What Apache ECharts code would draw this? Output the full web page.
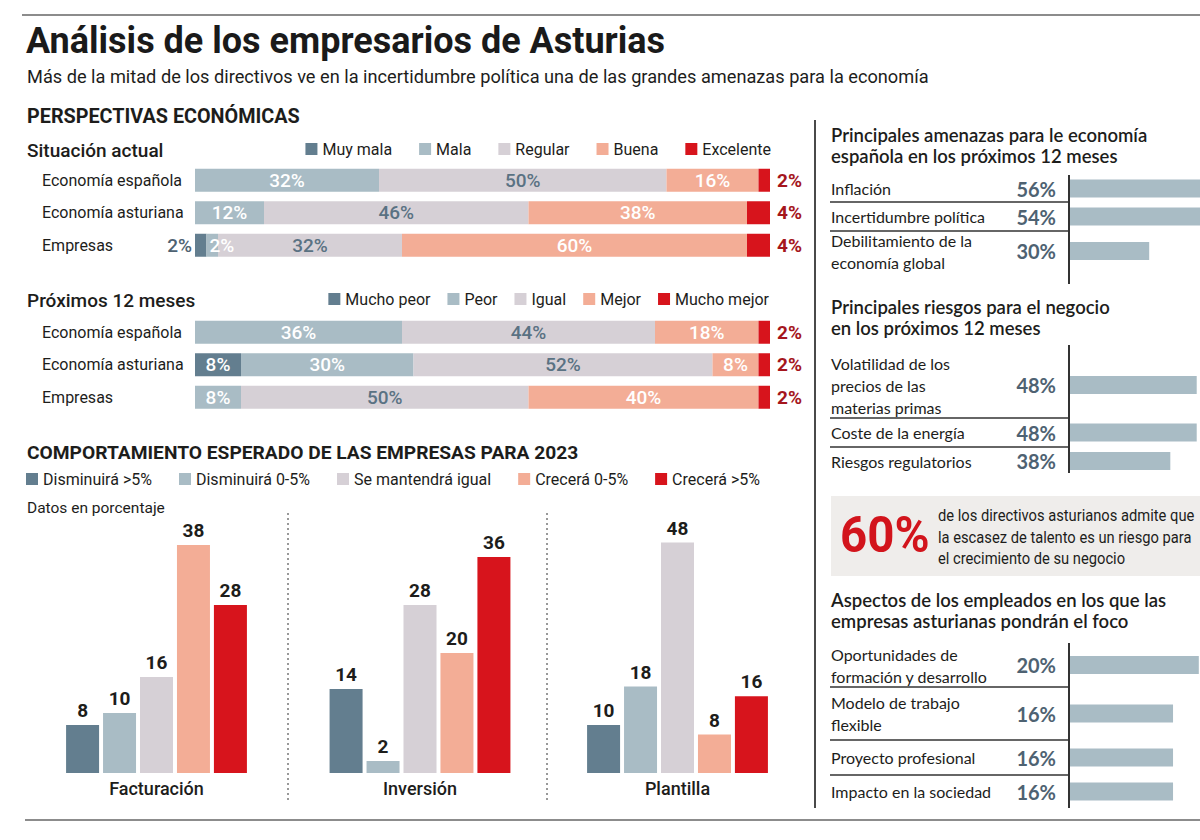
<!DOCTYPE html>
<html><head><meta charset="utf-8">
<script src="https://cdn.jsdelivr.net/npm/echarts@6.0.0/dist/echarts.min.js"></script>
<style>html,body{margin:0;padding:0;background:#fff}#c{width:1200px;height:840px}</style>
</head><body><div id="c"></div>
<script>
// ---------------- DATA ----------------
const situacionCats = ['Economía española', 'Economía asturiana', 'Empresas'];
const situacionNames = ['Muy mala', 'Mala', 'Regular', 'Buena', 'Excelente'];
const sitMuyMala = [0, 0, 2];
const sitMala = [32, 12, 2];
const sitRegular = [50, 46, 32];
const sitBuena = [16, 38, 60];
const sitExcelente = [2, 4, 4];

const proximosCats = ['Economía española', 'Economía asturiana', 'Empresas'];
const proximosNames = ['Mucho peor', 'Peor', 'Igual', 'Mejor', 'Mucho mejor'];
const proxMuchoPeor = [0, 8, 0];
const proxPeor = [36, 30, 8];
const proxIgual = [44, 52, 50];
const proxMejor = [18, 8, 40];
const proxMuchoMejor = [2, 2, 2];

const compNames = ['Disminuirá >5%', 'Disminuirá 0-5%', 'Se mantendrá igual', 'Crecerá 0-5%', 'Crecerá >5%'];
const compGroups = ['Facturación', 'Inversión', 'Plantilla'];
const compFacturacion = [8, 10, 16, 38, 28];
const compInversion = [14, 2, 28, 20, 36];
const compPlantilla = [10, 18, 48, 8, 16];

const amenazasLabels = ['Inflación', 'Incertidumbre política', 'Debilitamiento de la\neconomía global'];
const amenazasValues = [56, 54, 30];
const riesgosLabels = ['Volatilidad de los\nprecios de las\nmaterias primas', 'Coste de la energía', 'Riesgos regulatorios'];
const riesgosValues = [48, 48, 38];
const aspectosLabels = ['Oportunidades de\nformación y desarrollo', 'Modelo de trabajo\nflexible', 'Proyecto profesional', 'Impacto en la sociedad'];
const aspectosValues = [20, 16, 16, 16];

const talentoValue = 60;
const talentoLines = ['de los directivos asturianos admite que', 'la escasez de talento es un riesgo para', 'el crecimiento de su negocio'];

// ---------------- STYLE / LAYOUT ----------------
const PALETTE = ['#637e8f', '#a9bcc5', '#d6d0d6', '#f3ad96', '#d7141c'];
const FONT = 'Roboto, "Noto Sans", sans-serif';
const FONT2 = 'Lato, "Noto Sans", sans-serif';
const INK = '#1d1d1b';
const SLATE_TXT = '#5a7283';
const DARKRED = '#a5161c';
const PCT_TXT = '#4e6272';

const grids = [], xAxes = [], yAxes = [], series = [];
function addGrid(g) { grids.push(Object.assign({ containLabel: false, outerBoundsMode: 'none' }, g)); return grids.length - 1; }

// stacked 100% bars
function stackedBlock(cats, names, arrays, top) {
  const gi = addGrid({ left: 195, top: top, width: 575, height: 97.5 });
  xAxes.push({ type: 'value', gridIndex: gi, min: 0, max: 100, show: false });
  yAxes.push({
    type: 'category', gridIndex: gi, inverse: true, data: cats,
    axisLine: { show: false }, axisTick: { show: false }, splitLine: { show: false },
    axisLabel: { align: 'left', margin: 153, fontFamily: FONT, fontSize: 16, color: INK }
  });
  arrays.forEach((arr, k) => {
    series.push({
      type: 'bar', name: names[k], stack: 'st' + gi, xAxisIndex: gi, yAxisIndex: gi,
      barWidth: 23, itemStyle: { color: PALETTE[k] },
      data: arr.map(v => {
        let label;
        if (k === 4) label = { position: 'right', distance: 7, color: DARKRED, fontWeight: 'bold', fontSize: 19 };
        else if (k === 0 && v < 5) label = { position: 'left', distance: 3, color: PCT_TXT };
        else if (k === 1 && v < 5) label = { position: 'insideLeft', distance: 3, color: '#fff' };
        else if (k === 2) label = { position: 'inside', color: SLATE_TXT };
        else label = { position: 'inside', color: '#fff' };
        return { value: v, label: label };
      }),
      label: { show: true, fontFamily: FONT, fontSize: 19, fontWeight: 500, formatter: p => p.value ? p.value + '%' : '' }
    });
  });
}
stackedBlock(situacionCats, situacionNames, [sitMuyMala, sitMala, sitRegular, sitBuena, sitExcelente], 164);
stackedBlock(proximosCats, proximosNames, [proxMuchoPeor, proxPeor, proxIgual, proxMejor, proxMuchoMejor], 316);

// grouped vertical bars
const compData = [compFacturacion, compInversion, compPlantilla];
const compCenters = [156.5, 420, 677.5];
const compYMax = [40, 40, 50];
compData.forEach((vals, g) => {
  const gi = addGrid({ left: compCenters[g] - 110, top: 533, width: 220, height: 240 });
  xAxes.push({
    type: 'category', gridIndex: gi, data: [compGroups[g]],
    axisLine: { show: false }, axisTick: { show: false },
    axisLabel: { fontFamily: FONT, fontSize: 18, fontWeight: 500, color: INK, margin: 6 }
  });
  yAxes.push({ type: 'value', gridIndex: gi, min: 0, max: compYMax[g], show: false });
  vals.forEach((v, k) => {
    series.push({
      type: 'bar', name: compNames[k], xAxisIndex: gi, yAxisIndex: gi,
      barWidth: 33, barGap: '12%', itemStyle: { color: PALETTE[k] },
      data: [v],
      label: { show: true, position: 'top', distance: 5, fontFamily: FONT, fontWeight: 'bold', fontSize: 19, color: INK }
    });
  });
});

// right side horizontal bar panels (one grid per row)
function panel(labels, values, rows, widthFor100) {
  labels.forEach((lab, i) => {
    const [t, b] = rows[i];
    const gi = addGrid({ left: 1070, top: t, width: widthFor100, height: b - t });
    xAxes.push({ type: 'value', gridIndex: gi, min: 0, max: 100, show: false });
    yAxes.push({
      type: 'category', gridIndex: gi, data: [lab],
      axisLine: { show: false }, axisTick: { show: false }, splitLine: { show: false },
      axisLabel: { align: 'left', margin: 239, fontFamily: FONT2, fontSize: 16, lineHeight: 22, color: INK }
    });
    series.push({
      type: 'bar', name: 'panel' + gi, xAxisIndex: gi, yAxisIndex: gi, barWidth: 18,
      itemStyle: { color: '#a9bcc5' }, data: [values[i]],
      label: { show: true, position: 'left', distance: 14, formatter: '{c}%', fontFamily: FONT2, fontWeight: 'bold', fontSize: 20, color: PCT_TXT }
    });
  });
}
const amenazasRows = [[175, 202], [202, 231], [231, 271]];
const riesgosRows = [[352, 418], [418, 447], [447, 475]];
const aspectosRows = [[643, 687], [687, 740], [740, 775], [775, 808]];
panel(amenazasLabels, amenazasValues, amenazasRows, 264);
panel(riesgosLabels, riesgosValues, riesgosRows, 264);
panel(aspectosLabels, aspectosValues, aspectosRows, 644);

// ---------------- GRAPHIC (texts, rules) ----------------
function txt(x, y, text, o) {
  o = o || {};
  return {
    type: 'text', x: x, y: y, scaleX: o.sx || 1, silent: true,
    style: {
      text: text, fontFamily: o.ff || FONT, fontSize: o.fs || 16, fontWeight: o.fw || 'normal',
      fill: o.c || INK, align: o.al || 'left', textAlign: o.al || 'left',
      verticalAlign: 'middle', textVerticalAlign: 'middle'
    }
  };
}
function line(x1, y1, x2, y2, o) {
  o = o || {};
  return { type: 'line', silent: true, shape: { x1, y1, x2, y2 }, style: { stroke: o.c || '#333', lineWidth: o.w || 1.5, lineDash: o.dash || null } };
}
const graphics = [
  line(22, 15, 1200, 15, { c: '#8c8c8c', w: 2 }),
  line(25, 820, 1200, 820, { c: '#8c8c8c', w: 2 }),
  line(815, 120, 815, 808, { c: '#4a4a4a', w: 2 }),
  line(288, 513, 288, 801, { c: '#333', w: 1, dash: [2, 3] }),
  line(547, 513, 547, 801, { c: '#333', w: 1, dash: [2, 3] }),
  txt(26, 41, 'Análisis de los empresarios de Asturias', { fs: 36, fw: 'bold', c: '#1a1a1a' }),
  txt(27, 76, 'Más de la mitad de los directivos ve en la incertidumbre política una de las grandes amenazas para la economía', { fs: 18.2 }),
  txt(27, 116, 'PERSPECTIVAS ECONÓMICAS', { fs: 19.8, fw: 'bold' }),
  txt(27, 150, 'Situación actual', { fs: 19, fw: 500 }),
  txt(27, 300, 'Próximos 12 meses', { fs: 19, fw: 500 }),
  txt(27, 452, 'COMPORTAMIENTO ESPERADO DE LAS EMPRESAS PARA 2023', { fs: 19.2, fw: 'bold' }),
  txt(27, 508, 'Datos en porcentaje', { fs: 15.5 }),
  txt(831, 135, 'Principales amenazas para le economía', { ff: FONT2, fs: 18.5, fw: 600 }),
  txt(831, 156, 'española en los próximos 12 meses', { ff: FONT2, fs: 18.5, fw: 600 }),
  txt(831, 307, 'Principales riesgos para el negocio', { ff: FONT2, fs: 18.5, fw: 600 }),
  txt(831, 328, 'en los próximos 12 meses', { ff: FONT2, fs: 18.5, fw: 600 }),
  txt(831, 600, 'Aspectos de los empleados en los que las', { ff: FONT2, fs: 18.5, fw: 600 }),
  txt(831, 621, 'empresas asturianas pondrán el foco', { ff: FONT2, fs: 18.5, fw: 600 }),
  { type: 'rect', silent: true, shape: { x: 831, y: 496, width: 369, height: 80 }, style: { fill: '#efedeb' } },
  txt(840, 535, talentoValue + '%', { fs: 50, fw: 'bold', c: '#d2141c', sx: 0.95 }),
  txt(938, 516, talentoLines[0], { fs: 16, sx: 0.92 }),
  txt(938, 538, talentoLines[1], { fs: 16, sx: 0.92 }),
  txt(938, 559, talentoLines[2], { fs: 16, sx: 0.92 }),
  // right panel axis lines and separators
  line(1069, 175, 1069, 284, { w: 2 }),
  line(1069, 345, 1069, 473, { w: 2 }),
  line(1069, 643, 1069, 808, { w: 2 })
];
[amenazasRows, riesgosRows, aspectosRows].forEach(rows => {
  rows.slice(1).forEach(r => graphics.push(line(830, r[0], 1069, r[0], { w: 1.5 })));
});

// ---------------- OPTION ----------------
const legendText = { fontFamily: FONT, fontSize: 16, color: INK };
const option = {
  animation: false,
  backgroundColor: '#ffffff',
  grid: grids, xAxis: xAxes, yAxis: yAxes, series: series,
  legend: [
    { data: situacionNames, right: 429, top: 141, padding: 0, icon: 'rect', itemWidth: 12, itemHeight: 12, itemGap: 27, selectedMode: false, textStyle: legendText },
    { data: proximosNames, right: 431, top: 291, padding: 0, icon: 'rect', itemWidth: 12, itemHeight: 12, itemGap: 17, selectedMode: false, textStyle: legendText },
    { data: compNames, left: 26, top: 471, padding: 0, icon: 'rect', itemWidth: 12, itemHeight: 12, itemGap: 27, selectedMode: false, textStyle: legendText }
  ],
  graphic: { elements: graphics }
};
const chart = echarts.init(document.getElementById('c'), null, { renderer: 'svg' });
chart.setOption(option);
</script></body></html>
